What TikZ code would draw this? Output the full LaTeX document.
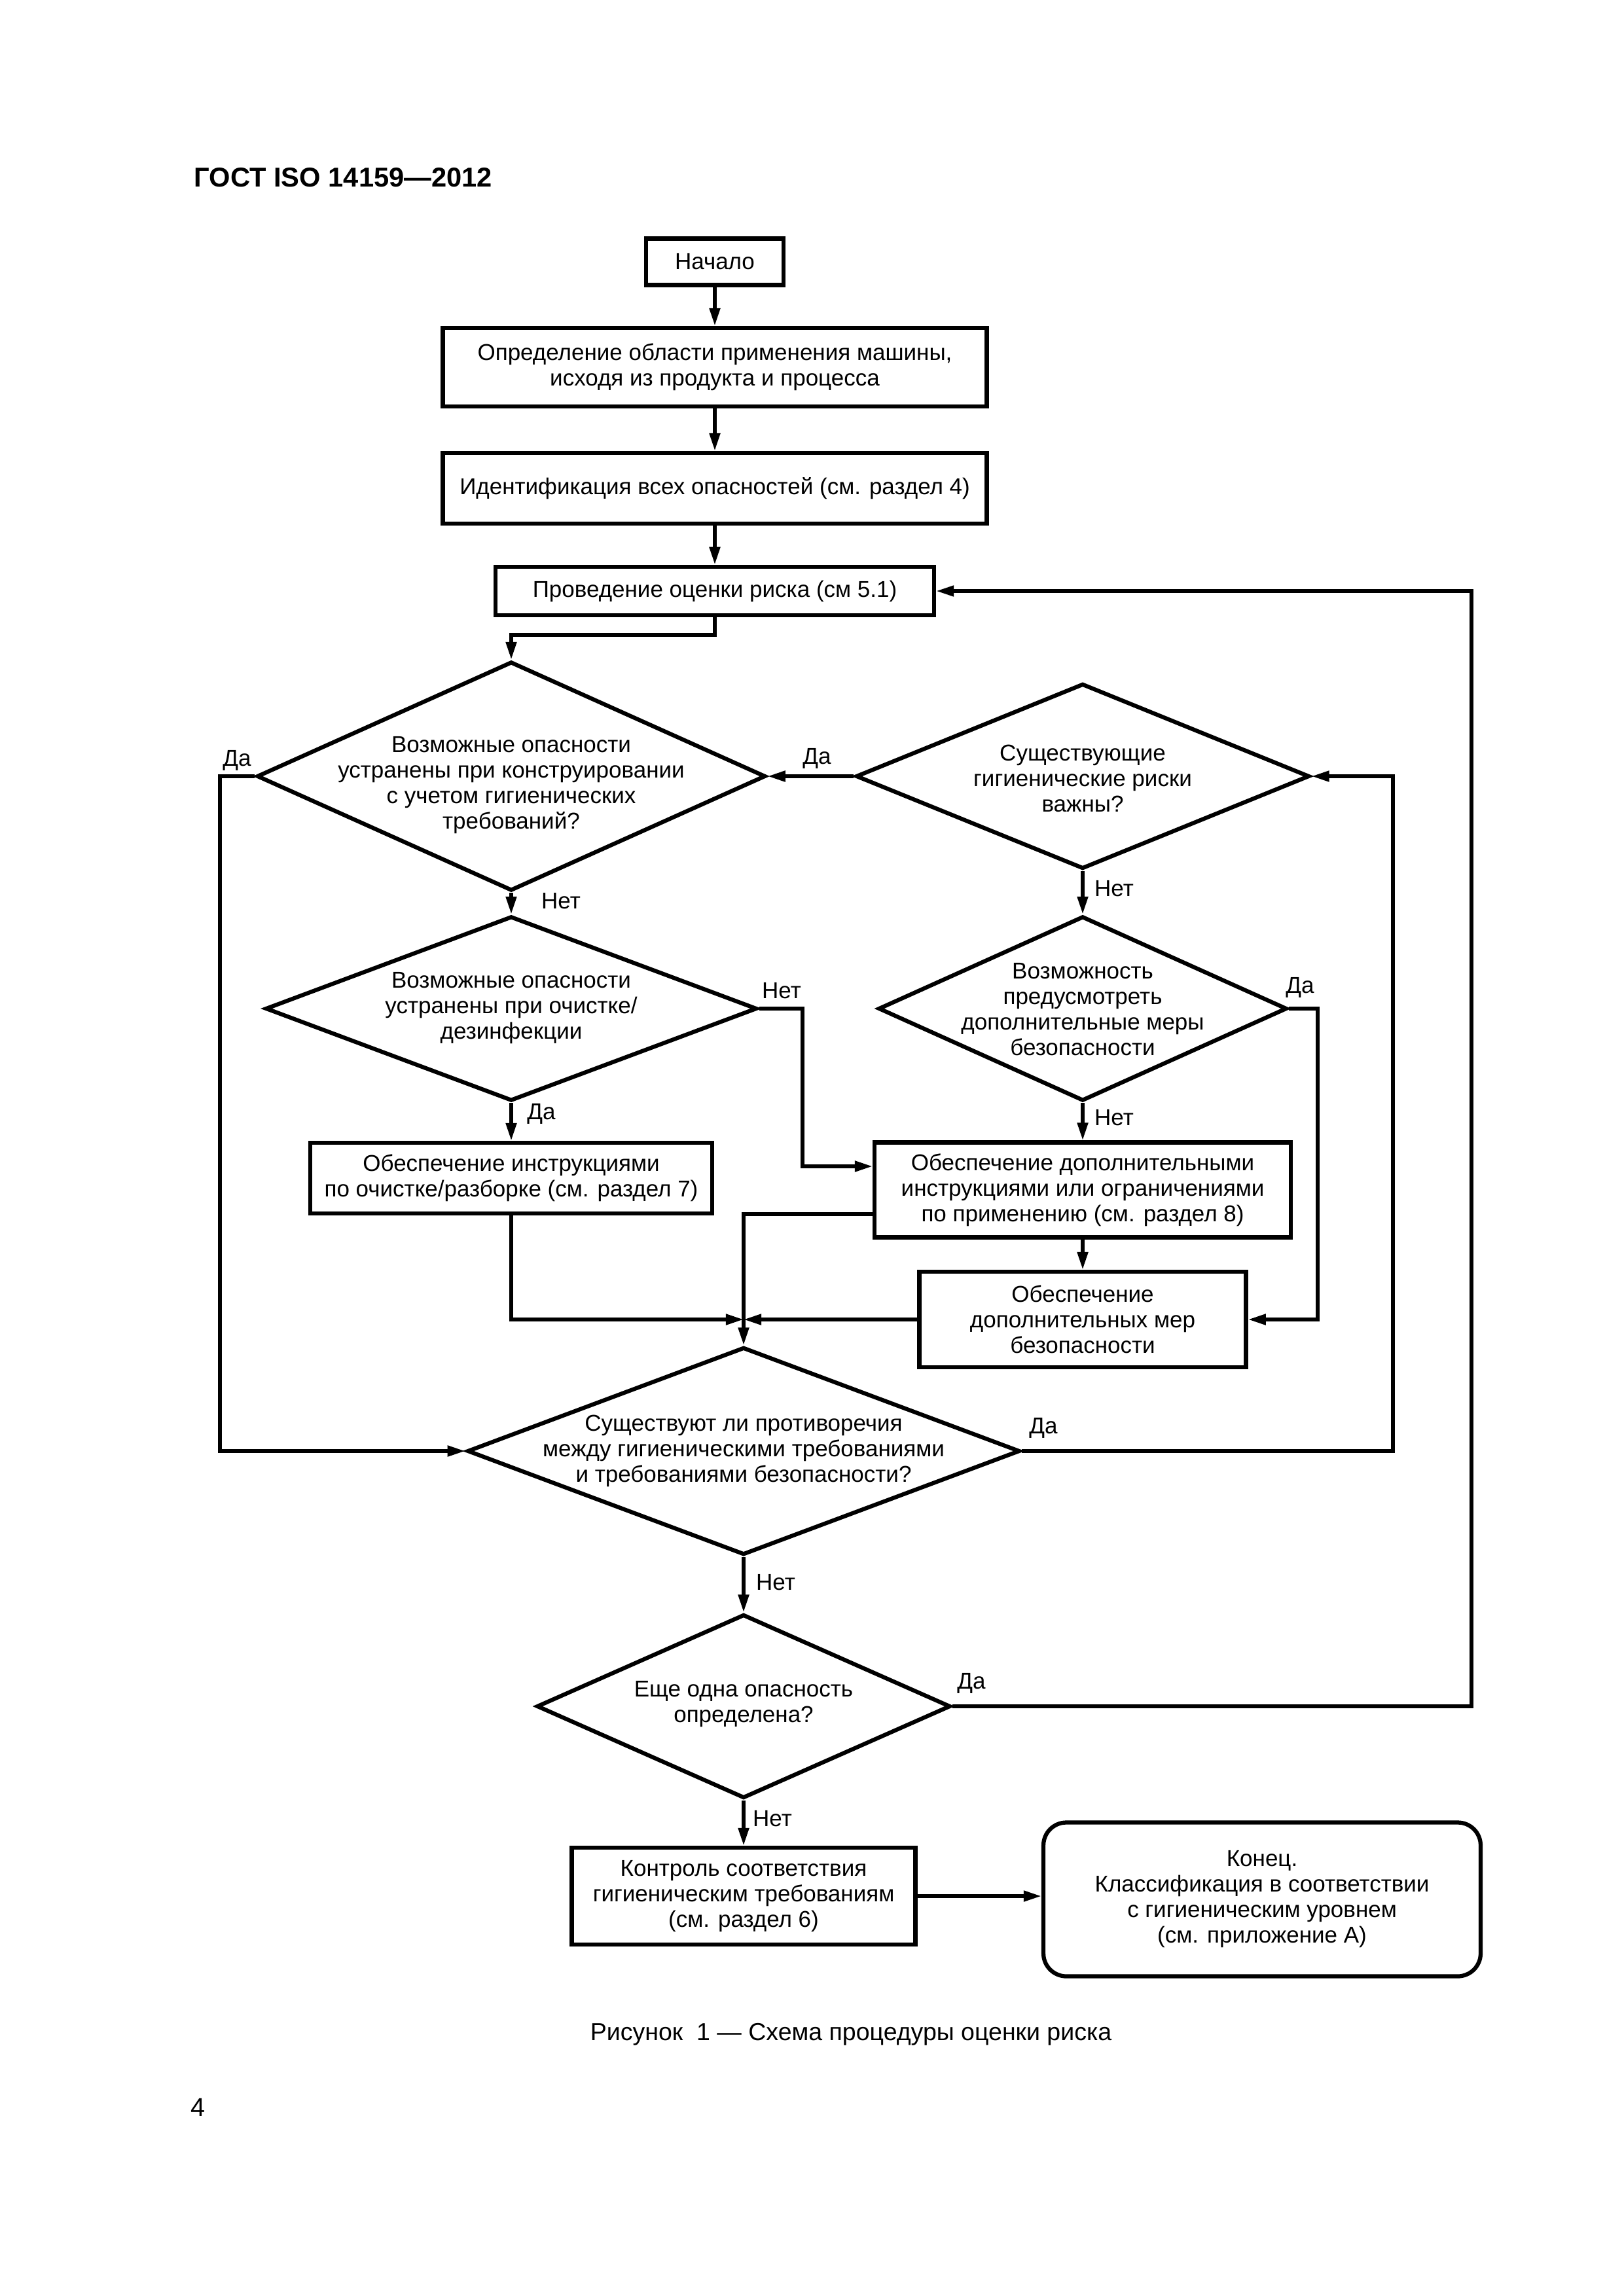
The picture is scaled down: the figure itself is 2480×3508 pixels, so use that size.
\documentclass[tikz,border=0pt]{standalone}
\usepackage{fontspec}
\setmainfont{Liberation Sans}
\usetikzlibrary{shapes.geometric,arrows.meta}
\begin{document}
\begin{tikzpicture}[x=0.24pt,y=-0.24pt,
  every node/.style={font=\fontsize{8.4}{9.36}\selectfont},
  box/.style={draw,line width=1.5pt,rectangle,align=center,inner sep=0pt},
  dia/.style={draw,line width=1.5pt,diamond,inner sep=0pt,aspect=1},
  txt/.style={align=center,inner sep=0pt},
  lbl/.style={inner sep=0pt},
  conn/.style={line width=1.3pt,-{Triangle[length=6.5pt,width=3.8pt]}},
]
\fill[white] (0,0) rectangle (2480,3508);
\useasboundingbox (0,0) rectangle (2480,3508);

% header, caption, page number
\node[lbl,anchor=west,font=\fontsize{10}{12}\selectfont\bfseries] (title) at (296,271) {ГОСТ ISO 14159—2012};
\node[lbl,font=\fontsize{9}{11}\selectfont] (caption) at (1300,3108) {Рисунок\ \ 1 — Схема процедуры оценки риска};
\node[lbl,font=\fontsize{9.5}{11}\selectfont] (pagenum) at (303,3220) {4};

% boxes
\node[box,minimum width=50.4pt,minimum height=17pt] (start) at (1092,400) {Начало};
\node[box,minimum width=199.4pt,minimum height=28.8pt] (def) at (1092,561) {Определение области применения машины,\\исходя из продукта и процесса};
\node[box,minimum width=199.4pt,minimum height=25.9pt] (ident) at (1092,746) {Идентификация всех опасностей (см. раздел 4)};
\node[box,minimum width=160.8pt,minimum height=17.8pt] (pr) at (1092,903) {Проведение оценки риска (см 5.1)};

% diamonds (shapes) and their texts
\node[dia,minimum width=186.5pt,minimum height=84pt] (d1) at (781,1186) {};
\node[txt] (d1t) at (781,1200) {Возможные опасности\\устранены при конструировании\\с учетом гигиенических\\требований?};
\node[dia,minimum width=166.3pt,minimum height=67.9pt] (d2) at (1654,1186) {};
\node[txt] (d2t) at (1654,1189) {Существующие\\гигиенические риски\\важны?};
\node[dia,minimum width=180.2pt,minimum height=67.7pt] (d3) at (781,1541) {};
\node[txt] (d3t) at (781,1540) {Возможные опасности\\устранены при очистке/\\дезинфекции};
\node[dia,minimum width=149.8pt,minimum height=67.7pt] (d5) at (1654,1541) {};
\node[txt] (d5t) at (1654,1542) {Возможность\\предусмотреть\\дополнительные меры\\безопасности};

\node[box,minimum width=147.4pt,minimum height=25.9pt] (b7) at (781,1800) {Обеспечение инструкциями\\по очистке/разборке (см. раздел 7)};
\node[box,minimum width=152.6pt,minimum height=34.8pt] (b8) at (1654,1818) {Обеспечение дополнительными\\инструкциями или ограничениями\\по применению (см. раздел 8)};
\node[box,minimum width=119.8pt,minimum height=35pt] (b9) at (1654,2016) {Обеспечение\\дополнительных мер\\безопасности};

\node[dia,minimum width=202.6pt,minimum height=76.1pt] (d4) at (1136,2217) {};
\node[txt] (d4t) at (1136,2217) {Существуют ли противоречия\\между гигиеническими требованиями\\и требованиями безопасности?};
\node[dia,minimum width=151.7pt,minimum height=67.4pt] (d6) at (1136,2607) {};
\node[txt] (d6t) at (1136,2604) {Еще одна опасность\\определена?};

\node[box,minimum width=126pt,minimum height=35.5pt] (ctrl) at (1136,2897) {Контроль соответствия\\гигиеническим требованиям\\(см. раздел 6)};
\node[box,rounded corners=8.4pt,minimum width=160.3pt,minimum height=56.4pt] (end) at (1928,2902) {Конец.\\Классификация в соответствии\\с гигиеническим уровнем\\(см. приложение А)};

% bend points
\coordinate (j1) at (781,970);
\coordinate (c2) at (336,2217);
\coordinate (c3) at (1226,1782);
\coordinate (c4) at (2013,2016);
\coordinate (c5) at (1136,1855);
\coordinate (m1) at (1136,2016);
\coordinate (c6) at (2128,1186);
\coordinate (c7) at (2248,903);

% connectors
\draw[conn] (start) -- (def);
\draw[conn] (def) -- (ident);
\draw[conn] (ident) -- (pr);
\draw[conn] (pr.south) |- (j1) -- (d1.north);
\draw[conn] (d1.west) -| (c2) -- (d4.west);
\draw[conn] (d2.west) -- (d1.east);
\draw[conn] (d2.south) -- (d5.north);
\draw[conn] (d1.south) -- (d3.north);
\draw[conn] (d3.east) -| (c3) -- (c3 -| b8.west);
\draw[conn] (d3.south) -- (b7.north);
\draw[conn] (d5.east) -| (c4) -- (b9.east);
\draw[conn] (d5.south) -- (b8.north);
\draw[conn] (b8.south) -- (b9.north);
\draw[conn] (c5 -| b8.west) -- (c5) -- (d4.north);
\draw[conn] (b7.south) |- (m1);
\draw[conn] (b9.west) -- (m1);
\draw[conn] (d4.east) -| (c6) -- (d2.east);
\draw[conn] (d4.south) -- (d6.north);
\draw[conn] (d6.east) -| (c7) -- (pr.east);
\draw[conn] (d6.south) -- (ctrl.north);
\draw[conn] (ctrl.east) -- (ctrl.east -| end.west);

% yes/no labels
\node[lbl] (l1) at (362,1162) {Да};
\node[lbl] (l2) at (1248,1159) {Да};
\node[lbl] (l3) at (857,1377) {Нет};
\node[lbl] (l4) at (1702,1358) {Нет};
\node[lbl] (l5) at (1194,1514) {Нет};
\node[lbl] (l6) at (827,1702) {Да};
\node[lbl] (l7) at (1986,1509) {Да};
\node[lbl] (l8) at (1702,1708) {Нет};
\node[lbl] (l9) at (1594,2182) {Да};
\node[lbl] (l10) at (1185,2418) {Нет};
\node[lbl] (l11) at (1484,2572) {Да};
\node[lbl] (l12) at (1180,2779) {Нет};
\end{tikzpicture}
\end{document}
